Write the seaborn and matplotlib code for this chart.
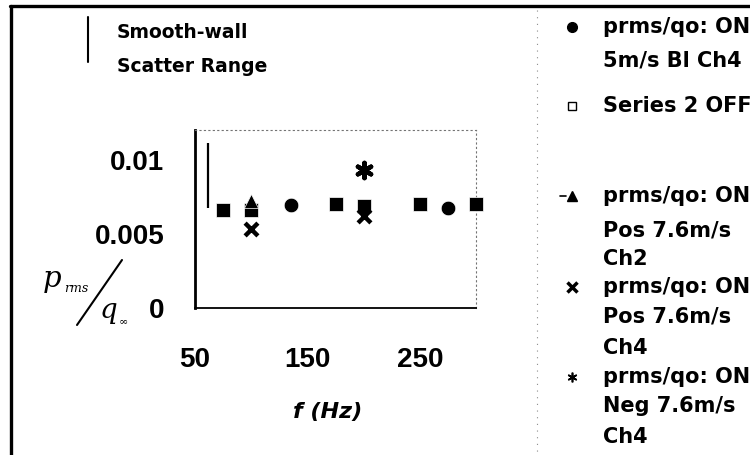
import matplotlib
matplotlib.use("Agg")
import matplotlib.pyplot as plt
from matplotlib.lines import Line2D
from matplotlib.font_manager import FontProperties
import pandas as pd
import seaborn as sns

# p_rms / q_inf against frequency (Hz) for each measurement series
freq_on_bl = [135, 275]
ratio_on_bl = [0.00696, 0.00676]

freq_off = [75, 100, 175, 200, 250, 300]
ratio_off = [0.0066, 0.0066, 0.0070, 0.0069, 0.0070, 0.0070]

freq_pos_ch2 = [100]
ratio_pos_ch2 = [0.0072]

freq_pos_ch4 = [100, 200]
ratio_pos_ch4 = [0.0053, 0.0062]

freq_neg_ch4 = [200]
ratio_neg_ch4 = [0.0093]

# smooth-wall scatter range (vertical bar)
range_freq = [61.5]
range_low = [0.00676]
range_high = [0.01115]

x_ticks = [50, 150, 250]
x_tick_labels = ["50", "150", "250"]
y_ticks = [0, 0.005, 0.01]
y_tick_labels = ["0", "0.005", "0.01"]

legend_labels = [
    ["prms/qo: ON", "5m/s Bl Ch4"],
    ["Series 2 OFF"],
    ["prms/qo: ON", "Pos 7.6m/s", "Ch2"],
    ["prms/qo: ON", "Pos 7.6m/s", "Ch4"],
    ["prms/qo: ON", "Neg 7.6m/s", "Ch4"],
]

W, H = 750, 455


def fx(px):
    return px / W


def fy(py):
    return 1 - py / H


sns.set_style("white")
plt.rcParams["font.family"] = ["DejaVu Sans"]
plt.rcParams["text.color"] = "black"

fig = plt.figure(figsize=(7.5, 4.55), dpi=100)
fig.patch.set_facecolor("white")
ax = fig.add_axes([fx(195), fy(308), (476 - 195) / W, (308 - 130) / H])
ax.set_facecolor("white")

series = [
    (freq_off, ratio_off, "s", 115, 0.5),
    (freq_on_bl, ratio_on_bl, "o", 110, 0.5),
    (freq_pos_ch2, ratio_pos_ch2, "^", 105, 0.5),
    (freq_pos_ch4, ratio_pos_ch4, "x", 85, 3.2),
    (freq_neg_ch4, ratio_neg_ch4, (6, 2, 0), 120, 3.2),
]
for xs, ys, mk, size, lw in series:
    df = pd.DataFrame({"f": xs, "r": ys})
    sns.scatterplot(data=df, x="f", y="r", marker=mk, s=size, color="black",
                    linewidth=lw, ax=ax, clip_on=False, zorder=3)

ax.vlines(range_freq, range_low, range_high, color="black", lw=1.6, zorder=3)

ax.set_xlim(50, 300)
ax.set_ylim(0, 0.012)
ax.set_xticks(x_ticks, x_tick_labels)
ax.set_yticks(y_ticks, y_tick_labels)
ax.set_xlabel("")
ax.set_ylabel("")

tick_font = FontProperties(family="Liberation Sans", weight="bold", size=20)
for lab in ax.get_xticklabels() + ax.get_yticklabels():
    lab.set_fontproperties(tick_font)
    lab.set_color("black")
ax.tick_params(axis="y", direction="in", length=5, width=1, pad=22, colors="black")
ax.tick_params(axis="x", direction="in", length=3, width=0.8, pad=28, colors="black")

for side in ("top", "right"):
    ax.spines[side].set_linestyle((0, (1, 3)))
    ax.spines[side].set_color("0.45")
    ax.spines[side].set_linewidth(0.8)
ax.spines["left"].set_color("black")
ax.spines["left"].set_linewidth(2.0)
ax.spines["bottom"].set_color("black")
ax.spines["bottom"].set_linewidth(1.3)

# x-axis title
fig.text(fx(328), fy(412), "f (Hz)", ha="center", va="center",
         fontsize=16, fontweight="bold", style="italic", family="DejaVu Sans")

# y-axis title drawn as p_rms / q_inf with a slanted bar
serif = "DejaVu Serif"
fig.text(fx(52), fy(279), "p", ha="center", va="center", fontsize=21,
         style="italic", family=serif)
fig.text(fx(76), fy(288), "rms", ha="center", va="center", fontsize=9,
         style="italic", family=serif)
fig.add_artist(Line2D([fx(77), fx(122)], [fy(325), fy(260)],
                      transform=fig.transFigure, color="black", lw=1.5))
fig.text(fx(108), fy(311), "q", ha="center", va="center", fontsize=20,
         style="italic", family=serif)
fig.text(fx(123), fy(321), "\u221e", ha="center", va="center", fontsize=8,
         family=serif)

# smooth-wall scatter range key
fig.add_artist(Line2D([fx(88), fx(88)], [fy(17), fy(62)],
                      transform=fig.transFigure, color="black", lw=1.5))
key_font = dict(fontsize=13.5, fontweight="bold", family="DejaVu Sans",
                va="center", ha="left", color="black")
fig.text(fx(117), fy(33), "Smooth-wall", **key_font)
fig.text(fx(117), fy(66), "Scatter Range", **key_font)

# legend on the right
legend_font = dict(key_font, fontsize=15)
legend_markers = [
    dict(marker="o", ms=7, mfc="black", mec="black"),
    dict(marker="s", ms=5.5, mfc="white", mec="black", mew=1),
    dict(marker="^", ms=7, mfc="black", mec="black"),
    dict(marker="x", ms=7, mec="black", mew=2.5),
    dict(marker=(6, 2, 0), ms=7, mec="black", mew=1.2),
]
legend_rows = [[27, 60], [106], [196, 230, 259], [287, 316, 348], [377, 406, 437]]
for mk, labels, rows in zip(legend_markers, legend_labels, legend_rows):
    fig.add_artist(Line2D([fx(572)], [fy(rows[0])], transform=fig.transFigure,
                          linestyle="none", **mk))
    for text, row in zip(labels, rows):
        fig.text(fx(603), fy(row), text, **legend_font)
fig.add_artist(Line2D([fx(560), fx(566)], [fy(196), fy(196)],
                      transform=fig.transFigure, color="black", lw=1.2))

# page frame and legend box edge
fig.add_artist(Line2D([fx(10), 1], [fy(6), fy(6)], transform=fig.transFigure,
                      color="black", lw=2.4))
fig.add_artist(Line2D([fx(11), fx(11)], [fy(6), 0], transform=fig.transFigure,
                      color="black", lw=2.4))
fig.add_artist(Line2D([fx(537), fx(537)], [fy(10), 0], transform=fig.transFigure,
                      color="0.55", lw=0.8, linestyle=(0, (1, 5))))

fig.savefig("out.png", dpi=100)
